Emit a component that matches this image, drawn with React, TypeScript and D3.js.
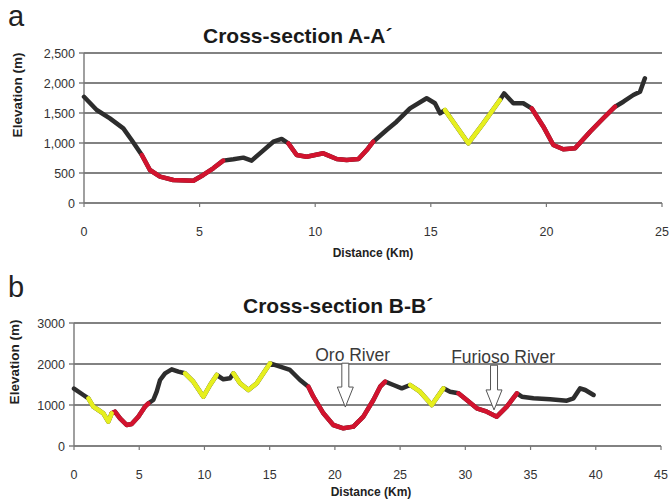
import { useEffect, useRef } from "react";
import * as d3 from "d3";

// Cross-section A-A' (distance km, elevation m)
const aKm = [0, 0.55, 1.12, 1.7, 2.06, 2.5, 2.85, 3.29, 3.86, 4.73, 5.16, 5.59, 6.02, 6.46, 6.89, 7.25, 7.61, 8.19, 8.55, 8.84, 9.2, 9.63, 10.35, 10.93, 11.36, 11.87, 12.23, 12.51, 13.09, 13.52, 14.1, 14.82, 15.18, 15.4, 15.61, 16.12, 16.62, 17.27, 17.99, 18.17, 18.57, 19.0, 19.36, 19.87, 20.3, 20.73, 21.24, 21.89, 22.46, 22.97, 23.33, 23.76, 24.05, 24.26];
const aElev = [1770, 1550, 1411, 1244, 1050, 800, 550, 439, 383, 372, 467, 578, 706, 728, 756, 706, 828, 1022, 1067, 994, 800, 772, 828, 733, 717, 733, 883, 1022, 1217, 1355, 1578, 1745, 1662, 1495, 1550, 1272, 995, 1328, 1717, 1828, 1662, 1662, 1578, 1272, 967, 895, 912, 1188, 1412, 1605, 1688, 1800, 1855, 2078];
const aRed = [[2.5, 6.02], [8.84, 12.51], [19.36, 22.97]];
const aYellow = [[15.61, 17.99]];
const aYTicks = [0, 500, 1000, 1500, 2000, 2500];
const aXTicks = [0, 5, 10, 15, 20, 25];

// Cross-section B-B'
const bKm = [0, 0.72, 1.1, 1.48, 1.87, 2.25, 2.63, 2.89, 3.14, 3.53, 4.04, 4.42, 4.93, 5.44, 5.7, 6.08, 6.34, 6.6, 6.98, 7.49, 8.0, 8.51, 9.15, 9.92, 10.43, 10.94, 11.45, 11.96, 12.22, 12.73, 13.37, 14.01, 14.52, 15.03, 15.8, 16.56, 17.33, 17.97, 18.35, 19.12, 19.88, 20.65, 21.42, 22.18, 22.95, 23.47, 23.85, 24.49, 25.13, 25.77, 26.53, 27.43, 28.32, 28.83, 29.47, 30.11, 30.88, 31.65, 32.41, 33.18, 33.95, 34.33, 35.22, 36.5, 37.78, 38.29, 38.8, 39.19, 39.83];
const bElev = [1400, 1244, 1163, 959, 878, 797, 593, 797, 837, 675, 512, 536, 715, 959, 1041, 1122, 1325, 1610, 1773, 1870, 1813, 1773, 1569, 1203, 1488, 1732, 1627, 1651, 1773, 1529, 1366, 1529, 1773, 2017, 1935, 1854, 1610, 1447, 1203, 797, 512, 431, 472, 715, 1122, 1447, 1569, 1488, 1407, 1488, 1325, 1000, 1407, 1325, 1285, 1122, 919, 837, 715, 959, 1285, 1203, 1163, 1138, 1106, 1163, 1407, 1366, 1244];
const bRed = [[2.89, 5.7], [17.97, 23.85], [29.47, 33.95]];
const bYellow = [[1.1, 2.89], [8.51, 10.94], [12.22, 15.03], [25.77, 28.32]];
const bYTicks = [0, 1000, 2000, 3000];
const bXTicks = [0, 5, 10, 15, 20, 25, 30, 35, 40, 45];

// river annotations on B-B'
const riverNames = ["Oro River", "Furioso River"];
const riverKm = [20.8, 32.2];
const riverTextKm = [21.36, 32.9];
const riverTop = [2020, 1970];
const riverTip = [950, 880];

const FONT = "'Liberation Sans', Arial, sans-serif";
const GRID = "#585858";
const BLACK = "#2d2d2d";
const RED = "#d2132e";
const YELLOW = "#e6ef1f";

function drawProfile(svg, o) {
  const x = d3.scaleLinear().domain(o.xDomain).range([o.left, o.right]);
  const y = d3.scaleLinear().domain(o.yDomain).range([o.bottom, o.top]);
  const g = svg.append("g");

  // gridlines
  g.selectAll(".grid")
    .data(o.yTicks)
    .join("line")
    .attr("x1", o.left)
    .attr("x2", o.right)
    .attr("y1", (d) => y(d))
    .attr("y2", (d) => y(d))
    .attr("stroke", GRID)
    .attr("stroke-width", 1.6);

  // y axis
  g.append("line")
    .attr("x1", o.left)
    .attr("x2", o.left)
    .attr("y1", o.top)
    .attr("y2", o.bottom)
    .attr("stroke", "#777")
    .attr("stroke-width", 1.4);
  g.selectAll(".ytick")
    .data(o.yTicks)
    .join("line")
    .attr("x1", o.left - 5)
    .attr("x2", o.left)
    .attr("y1", (d) => y(d))
    .attr("y2", (d) => y(d))
    .attr("stroke", "#777")
    .attr("stroke-width", 1.4);
  g.selectAll(".ylab")
    .data(o.yTicks)
    .join("text")
    .attr("x", o.left - 9)
    .attr("y", (d) => y(d) + 4.5)
    .attr("text-anchor", "end")
    .style("font-family", FONT)
    .style("font-size", "12.5px")
    .attr("fill", "#333")
    .text(o.yFormat);

  // x axis ticks
  g.selectAll(".xtick")
    .data(o.xTicks)
    .join("line")
    .attr("x1", (d) => x(d))
    .attr("x2", (d) => x(d))
    .attr("y1", o.bottom)
    .attr("y2", o.bottom + 4)
    .attr("stroke", "#777")
    .attr("stroke-width", 1.2);
  g.selectAll(".xlab")
    .data(o.xTicks)
    .join("text")
    .attr("x", (d) => x(d))
    .attr("y", o.bottom + 33)
    .attr("text-anchor", "middle")
    .style("font-family", FONT)
    .style("font-size", "12.5px")
    .attr("fill", "#333")
    .text((d) => d);

  // labels
  g.append("text")
    .attr("x", o.xLabelX)
    .attr("y", o.xLabelY)
    .attr("text-anchor", "middle")
    .style("font-family", FONT)
    .style("font-size", "12px")
    .style("font-weight", "bold")
    .attr("fill", "#222")
    .text("Distance (Km)");
  g.append("text")
    .attr("transform", `translate(${o.yLabelX},${o.yLabelY}) rotate(-90)`)
    .attr("text-anchor", "middle")
    .style("font-family", FONT)
    .style("font-size", "13.5px")
    .style("font-weight", "bold")
    .attr("fill", "#222")
    .text("Elevation (m)");
  g.append("text")
    .attr("x", o.titleX)
    .attr("y", o.titleY)
    .style("font-family", FONT)
    .style("font-size", "21px")
    .style("font-weight", "bold")
    .attr("fill", "#1a1a1a")
    .text(o.title);
  g.append("text")
    .attr("x", 8)
    .attr("y", o.letterY)
    .style("font-family", FONT)
    .style("font-size", "29px")
    .attr("fill", "#222")
    .text(o.letter);

  // profile
  const pts = o.km.map((k, i) => [k, o.elev[i]]);
  const line = d3
    .line()
    .x((d) => x(d[0]))
    .y((d) => y(d[1]));
  const stroke = (data, color) =>
    g.append("path")
      .attr("d", line(data))
      .attr("fill", "none")
      .attr("stroke", color)
      .attr("stroke-width", 4.5)
      .attr("stroke-linejoin", "round")
      .attr("stroke-linecap", "round");
  stroke(pts, BLACK);
  o.red.forEach(([s, e]) => stroke(pts.filter((p) => p[0] >= s && p[0] <= e), RED));
  o.yellow.forEach(([s, e]) => stroke(pts.filter((p) => p[0] >= s && p[0] <= e), YELLOW));

  return { x, y, g };
}

export default function App() {
  const ref = useRef(null);

  useEffect(() => {
    const svg = d3.select(ref.current);
    svg.selectAll("*").remove();

    drawProfile(svg, {
      xDomain: [0, 25],
      yDomain: [0, 2500],
      left: 84,
      right: 662,
      top: 53,
      bottom: 203,
      xTicks: aXTicks,
      yTicks: aYTicks,
      yFormat: d3.format(","),
      km: aKm,
      elev: aElev,
      red: aRed,
      yellow: aYellow,
      title: "Cross-section A-A´",
      titleX: 203,
      titleY: 43,
      letter: "a",
      letterY: 26,
      xLabelX: 373,
      xLabelY: 257,
      yLabelX: 22,
      yLabelY: 95,
    });

    const b = drawProfile(svg, {
      xDomain: [0, 45],
      yDomain: [0, 3000],
      left: 74,
      right: 661,
      top: 323,
      bottom: 446,
      xTicks: bXTicks,
      yTicks: bYTicks,
      yFormat: d3.format("d"),
      km: bKm,
      elev: bElev,
      red: bRed,
      yellow: bYellow,
      title: "Cross-section B-B´",
      titleX: 243,
      titleY: 313,
      letter: "b",
      letterY: 297,
      xLabelX: 371,
      xLabelY: 496,
      yLabelX: 19,
      yLabelY: 362,
    });

    // river arrows
    riverNames.forEach((name, i) => {
      const cx = b.x(riverKm[i]);
      const top = b.y(riverTop[i]);
      const tip = b.y(riverTip[i]);
      const headLen = 20;
      const path = d3.path();
      path.moveTo(cx - 3.5, top);
      path.lineTo(cx + 3.5, top);
      path.lineTo(cx + 3.5, tip - headLen);
      path.lineTo(cx + 8, tip - headLen);
      path.lineTo(cx, tip);
      path.lineTo(cx - 8, tip - headLen);
      path.lineTo(cx - 3.5, tip - headLen);
      path.closePath();
      b.g.append("path")
        .attr("d", path.toString())
        .attr("fill", "#fff")
        .attr("stroke", "#555")
        .attr("stroke-width", 1);
      b.g.append("text")
        .attr("x", b.x(riverTextKm[i]))
        .attr("y", b.y(riverTop[i]) - 2)
        .attr("text-anchor", "middle")
        .style("font-family", FONT)
        .style("font-size", "17.5px")
        .attr("fill", "#3a3a3a")
        .text(name);
    });
  }, []);

  return (
    <svg
      ref={ref}
      width={670}
      height={502}
      style={{ position: "absolute", left: 0, top: 0, background: "#fff" }}
    />
  );
}
